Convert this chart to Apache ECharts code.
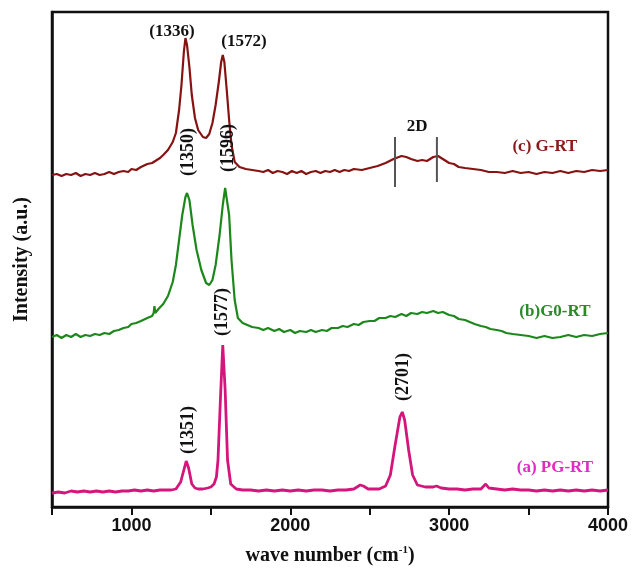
<!DOCTYPE html>
<html>
<head>
<meta charset="utf-8">
<script src="https://cdn.jsdelivr.net/npm/echarts@6/dist/echarts.min.js"></script>
<style>
  html, body { margin: 0; padding: 0; background: #fff; }
  #main { width: 636px; height: 572px; }
</style>
</head>
<body>
<div id="main"></div>
<script>
// Raman spectra, values (wave number, intensity a.u.)
var xTicks = [1000, 2000, 3000, 4000];

var gRT = [
  [500, 332], [530, 333], [560, 331], [590, 333], [620, 332], [650, 334], [680, 331], [710, 333],
  [740, 332], [770, 334], [800, 332], [830, 333], [860, 335], [890, 333], [920, 335], [950, 336],
  [980, 335], [1000, 338], [1030, 337], [1060, 340], [1100, 343], [1130, 344], [1150, 346],
  [1180, 349], [1200, 352], [1230, 357], [1260, 365], [1280, 374], [1300, 397], [1315, 422],
  [1330, 455], [1340, 469], [1350, 462], [1365, 440], [1380, 412], [1400, 389], [1420, 377],
  [1450, 370], [1470, 369], [1490, 373], [1510, 384], [1530, 402], [1550, 425], [1565, 445],
  [1575, 452], [1585, 445], [1600, 417], [1615, 387], [1630, 362], [1650, 345], [1680, 340],
  [1720, 338], [1760, 337], [1800, 336], [1830, 335], [1860, 337], [1890, 334], [1920, 336],
  [1950, 335], [1980, 333], [2010, 336], [2040, 334], [2070, 336], [2100, 333], [2130, 335],
  [2160, 336], [2190, 334], [2220, 336], [2250, 335], [2280, 337], [2310, 335], [2340, 337],
  [2370, 336], [2400, 338], [2450, 337], [2500, 339], [2550, 341], [2600, 344], [2650, 348],
  [2700, 351], [2730, 350], [2760, 348], [2800, 346], [2830, 347], [2860, 346], [2900, 350],
  [2930, 351], [2960, 348], [3000, 344], [3030, 343], [3060, 340], [3100, 339], [3150, 338],
  [3200, 337], [3250, 335], [3300, 335], [3350, 334], [3400, 336], [3450, 334], [3500, 335],
  [3550, 333], [3600, 335], [3650, 334], [3700, 336], [3750, 334], [3800, 336], [3850, 335],
  [3900, 337], [3950, 336], [4000, 337]
];

var g0RT = [
  [500, 170], [530, 172], [560, 169], [590, 172], [620, 170], [650, 173], [680, 170], [710, 172],
  [740, 171], [770, 173], [800, 172], [830, 174], [860, 173], [890, 176], [920, 177], [950, 179],
  [980, 180], [1000, 183], [1030, 184], [1060, 186], [1100, 189], [1130, 191], [1140, 194],
  [1145, 201], [1150, 194], [1170, 198], [1200, 203], [1230, 211], [1260, 225], [1280, 242],
  [1300, 267], [1320, 292], [1340, 310], [1350, 314], [1365, 307], [1385, 282], [1410, 257],
  [1440, 237], [1470, 224], [1490, 222], [1510, 227], [1530, 242], [1555, 272], [1575, 302],
  [1590, 319], [1600, 321], [1615, 292], [1630, 247], [1650, 207], [1670, 189], [1700, 184],
  [1730, 182], [1760, 180], [1800, 179], [1830, 177], [1860, 179], [1900, 176], [1930, 178],
  [1960, 175], [2000, 177], [2030, 174], [2060, 176], [2100, 175], [2130, 177], [2160, 175],
  [2200, 177], [2230, 176], [2260, 179], [2300, 179], [2330, 181], [2360, 180], [2400, 183],
  [2430, 182], [2460, 185], [2500, 186], [2530, 186], [2560, 189], [2600, 189], [2630, 191],
  [2660, 190], [2700, 193], [2730, 191], [2760, 194], [2800, 193], [2830, 195], [2860, 194],
  [2900, 196], [2930, 194], [2960, 195], [3000, 192], [3030, 191], [3060, 188], [3100, 187],
  [3130, 185], [3160, 183], [3200, 181], [3230, 180], [3260, 178], [3300, 177], [3330, 176],
  [3360, 174], [3400, 173], [3450, 172], [3500, 171], [3550, 169], [3600, 171], [3650, 169],
  [3700, 170], [3750, 172], [3800, 170], [3850, 172], [3900, 171], [3950, 173], [4000, 174]
];

var pgRT = [
  [500, 14], [540, 15], [580, 14], [620, 16], [660, 15], [700, 16], [740, 15], [780, 16],
  [820, 15], [860, 16], [900, 15], [940, 16], [980, 16], [1020, 17], [1060, 16], [1100, 17],
  [1140, 16], [1180, 17], [1220, 17], [1250, 17], [1280, 18], [1310, 25], [1330, 37], [1345, 46],
  [1360, 39], [1380, 23], [1400, 19], [1420, 18], [1450, 18], [1480, 19], [1500, 20], [1520, 23],
  [1535, 30], [1545, 47], [1560, 107], [1575, 162], [1590, 117], [1605, 47], [1625, 23],
  [1660, 18], [1700, 17], [1750, 17], [1800, 16], [1850, 17], [1900, 16], [1950, 17], [2000, 16],
  [2050, 17], [2100, 16], [2150, 17], [2200, 17], [2250, 16], [2300, 17], [2350, 17], [2400, 18],
  [2440, 22], [2460, 21], [2490, 18], [2530, 18], [2560, 18], [2600, 21], [2630, 32], [2660, 62],
  [2690, 90], [2705, 95], [2720, 87], [2745, 57], [2770, 32], [2800, 22], [2850, 20], [2900, 20],
  [2920, 21], [2950, 19], [3000, 18], [3050, 18], [3100, 17], [3150, 18], [3200, 18], [3230, 23],
  [3250, 19], [3300, 18], [3350, 17], [3400, 18], [3450, 17], [3500, 17], [3550, 16], [3600, 17],
  [3650, 16], [3700, 17], [3750, 16], [3800, 17], [3850, 16], [3900, 17], [3950, 16], [4000, 17]
];

// peak labels: [x, y, text]
var flatLabels = [
  [1255, 475, '(1336)'],
  [1708, 465, '(1572)'],
  [2798, 380, '2D']
];
var upLabels = [
  [1356, 355, '(1350)'],
  [1608, 359, '(1596)'],
  [1356, 77, '(1351)'],
  [1575, 195, '(1577)'],
  [2709, 130, '(2701)']
];
var seriesTags = [
  [3603, 360, '(c) G-RT', '#8b1a1a'],
  [3666, 195, '(b)G0-RT', '#2a8a2a'],
  [3666, 39, '(a) PG-RT', '#e02cc4']
];
var bar2D = [
  [[2659, 370], [2659, 320]],
  [[2923, 370], [2923, 325]]
];

var chart = echarts.init(document.getElementById('main'));

function textSeries(data, rotate, color, size) {
  return {
    type: 'scatter',
    symbolSize: 0,
    silent: true,
    itemStyle: { opacity: 1 },
    data: data.map(function (d) { return { value: [d[0], d[1]], name: d[2], label: { color: d[3] || color } }; }),
    label: {
      show: true,
      position: 'inside',
      rotate: rotate,
      formatter: function (p) { return p.name; },
      fontFamily: 'Liberation Serif',
      fontWeight: 'bold',
      fontSize: size,
      color: color,
      textBorderWidth: 0,
      textBorderColor: 'transparent'
    },
    z: 5
  };
}

var series = [
  { name: 'G-RT', type: 'line', data: gRT, showSymbol: false, lineStyle: { color: '#861212', width: 2.2 }, itemStyle: { color: '#861212' } },
  { name: 'G0-RT', type: 'line', data: g0RT, showSymbol: false, lineStyle: { color: '#1c881c', width: 2.2 }, itemStyle: { color: '#1c881c' } },
  { name: 'PG-RT', type: 'line', data: pgRT, showSymbol: false, lineStyle: { color: '#d4167c', width: 2.8 }, itemStyle: { color: '#d4167c' } },
  textSeries(flatLabels, 0, '#111', 17),
  textSeries(upLabels, 90, '#111', 18),
  textSeries(seriesTags, 0, '#333', 17)
];
bar2D.forEach(function (b) {
  series.push({ type: 'line', data: b, showSymbol: false, silent: true, lineStyle: { color: '#555', width: 2 } });
});

chart.setOption({
  animation: false,
  backgroundColor: '#fff',
  grid: { left: 52, right: 28, top: 12, bottom: 65, show: true, borderColor: '#111', borderWidth: 2.5 },
  xAxis: {
    type: 'value',
    min: 500,
    max: 4000,
    interval: 500,
    name: 'wave number (cm{sup|-1})',
    nameLocation: 'middle',
    nameGap: 38,
    nameTextStyle: {
      fontFamily: 'Liberation Serif', fontWeight: 'bold', fontSize: 20, color: '#111',
      rich: { sup: { fontFamily: 'Liberation Serif', fontWeight: 'bold', fontSize: 11, verticalAlign: 'top', padding: [0, 0, 10, 0], color: '#111' } }
    },
    axisLine: { lineStyle: { color: '#111', width: 2.5 } },
    axisTick: { inside: false, length: 8, lineStyle: { color: '#111', width: 2 } },
    axisLabel: {
      margin: 10,
      fontFamily: 'Liberation Sans', fontWeight: 'bold', fontSize: 18, color: '#111',
      formatter: function (v) { return xTicks.indexOf(v) >= 0 ? String(v) : ''; }
    },
    splitLine: { show: false }
  },
  yAxis: {
    type: 'value',
    min: 0,
    max: 495,
    name: 'Intensity (a.u.)',
    nameLocation: 'middle',
    nameGap: 20,
    nameTextStyle: { fontFamily: 'Liberation Serif', fontWeight: 'bold', fontSize: 20, color: '#111' },
    axisLine: { show: true, lineStyle: { color: '#111', width: 2.5 } },
    axisTick: { show: false },
    axisLabel: { show: false },
    splitLine: { show: false }
  },
  series: series
});
</script>
</body>
</html>
